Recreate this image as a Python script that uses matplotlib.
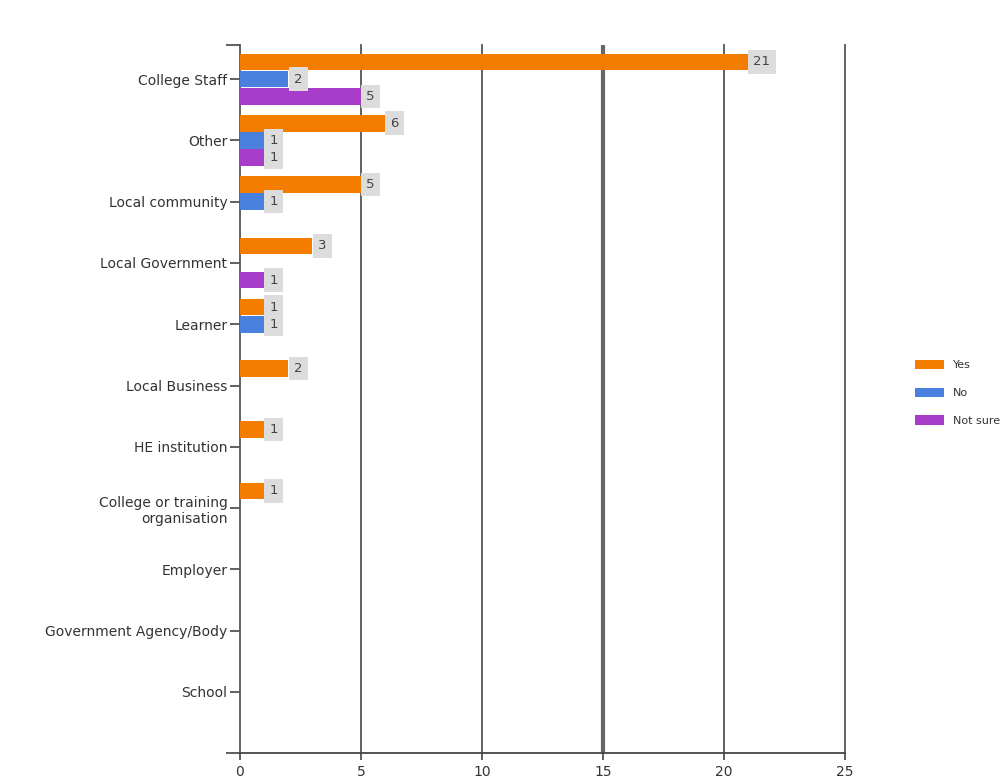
import matplotlib.pyplot as plt
import numpy as np

categories = ["College Staff", "Other", "Local community", "Local Government",
              "Learner", "Local Business", "HE institution",
              "College or training\norganisation", "Employer",
              "Government Agency/Body", "School"]
yes = [21, 6, 5, 3, 1, 2, 1, 1, 0, 0, 0]
no = [2, 1, 1, 0, 1, 0, 0, 0, 0, 0, 0]
not_sure = [5, 1, 0, 1, 0, 0, 0, 0, 0, 0, 0]

series = [("Yes", yes, "#f47d00"), ("No", no, "#4a80dd"), ("Not sure", not_sure, "#a63cc8")]

fig = plt.figure(figsize=(10.08, 7.83), dpi=100)
ax = fig.add_axes([0.238, 0.038, 0.6, 0.904])

y = np.arange(len(categories))
h = 0.27
offsets = [-0.28, 0.0, 0.28]

for (name, vals, col), off in zip(series, offsets):
    vals = np.array(vals)
    mask = vals > 0
    ax.barh(y[mask] + off, vals[mask], height=h, color=col, label=name, zorder=3)
    for yy, v in zip(y[mask] + off, vals[mask]):
        ax.annotate(str(v), (v, yy), xytext=(4, 0), textcoords="offset points",
                    ha="left", va="center", fontsize=9.5, color="#444444", zorder=4,
                    bbox=dict(boxstyle="square,pad=0.4", fc="#dcdcdc", ec="none"))

ax.set_xlim(0, 25)
ax.set_ylim(11.0, -0.55)
ax.set_xticks([0, 5, 10, 15, 20, 25])
ax.set_yticks(y)
ax.set_yticklabels(categories, fontsize=10, color="#333333")
ax.set_yticks([-0.55, 11.0], minor=True)
ax.tick_params(axis="y", which="major", length=7, width=1.2, color="#444444", pad=2)
ax.tick_params(axis="y", which="minor", length=10, width=1.2, color="#444444")
ax.tick_params(axis="x", length=5, width=1.2, color="#444444", labelsize=10, labelcolor="#333333")

for xv in [5, 10, 20, 25]:
    ax.axvline(xv, color="#555555", lw=1.3, zorder=1, clip_on=False)
ax.axvline(15, color="#666666", lw=3, zorder=1)

for s in ["top", "right"]:
    ax.spines[s].set_visible(False)
ax.spines["left"].set_color("#555555")
ax.spines["left"].set_linewidth(1.3)
ax.spines["bottom"].set_color("#444444")
ax.spines["bottom"].set_linewidth(1.3)

fig.legend(loc="upper left", bbox_to_anchor=(0.898, 0.553), frameon=False,
           fontsize=8, handlelength=2.6, handleheight=0.9, labelspacing=1.55,
           labelcolor="#333333")

fig.savefig("out.png", dpi=100)
